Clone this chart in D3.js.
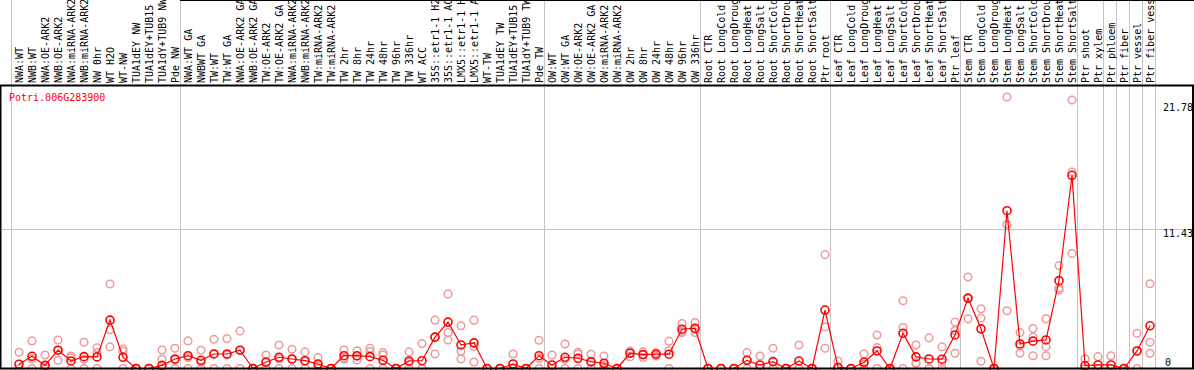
<!DOCTYPE html>
<html>
<head>
<meta charset="utf-8">
<script src="https://cdn.jsdelivr.net/npm/d3@7"></script>
<style>
  html, body { margin: 0; padding: 0; background: #fff; }
  svg { display: block; font-family: 'DejaVu Sans Mono', monospace; font-size: 10px; }
</style>
</head>
<body>
<svg id="chart" width="1194" height="370"></svg>
<script>
const geneId = 'Potri.006G283900';

const samples = [
  'NWA:WT', 'NWB:WT', 'NWA:OE-ARK2', 'NWB:OE-ARK2', 'NWA:miRNA-ARK2', 'NWB:miRNA-ARK2',
  'NW 0hr', 'WT H2O', 'WT-NW', 'TUA1dEY NW', 'TUA1dEY+TUB15 NW', 'TUA1dY+TUB9 NW', 'Pde NW',
  'NWA:WT GA', 'NWBWT GA', 'TW:WT', 'TW:WT GA', 'NWA:OE-ARK2 GA', 'NWB:OE-ARK2 GA',
  'TW:OE-ARK2', 'TW:OE-ARK2 GA', 'NWA:miRNA-ARK2 GA', 'NWB:miRNA-ARK2 GA', 'TW:miRNA-ARK2',
  'TW:miRNA-ARK2 GA', 'TW 2hr', 'TW 8hr', 'TW 24hr', 'TW 48hr', 'TW 96hr', 'TW 336hr',
  'WT ACC', '35S::etr1-1 H2O', '35S::etr1-1 ACC', 'LMX5::etr1-1 H2O', 'LMX5::etr1-1 ACC',
  'WT-TW', 'TUA1dEY TW', 'TUA1dEY+TUB15 TW', 'TUA1dY+TUB9 TW', 'Pde TW',
  'OW:WT', 'OW:WT GA', 'OW:OE-ARK2', 'OW:OE-ARK2 GA', 'OW:miRNA-ARK2', 'OW:miRNA-ARK2 GA',
  'OW 2hr', 'OW 8hr', 'OW 24hr', 'OW 48hr', 'OW 96hr', 'OW 336hr',
  'Root CTR', 'Root LongCold', 'Root LongDrought', 'Root LongHeat', 'Root LongSalt',
  'Root ShortCold', 'Root ShortDrought', 'Root ShortHeat', 'Root ShortSalt', 'Ptr root',
  'Leaf CTR', 'Leaf LongCold', 'Leaf LongDrought', 'Leaf LongHeat', 'Leaf LongSalt',
  'Leaf ShortCold', 'Leaf ShortDrought', 'Leaf ShortHeat', 'Leaf ShortSalt', 'Ptr leaf',
  'Stem CTR', 'Stem LongCold', 'Stem LongDrought', 'Stem LongHeat', 'Stem LongSalt',
  'Stem ShortCold', 'Stem ShortDrought', 'Stem ShortHeat', 'Stem ShortSalt', 'Ptr shoot',
  'Ptr xylem', 'Ptr phloem', 'Ptr fiber', 'Ptr vessel', 'Ptr fiber vessel'
];

// mean expression per sample
const means = [
  0.35, 1.0, 0.26, 1.5, 0.62, 0.97, 0.95, 3.96, 0.92, 0, 0, 0.26, 0.78,
  1.05, 0.67, 1.19, 1.19, 1.5, 0, 0.53, 0.92, 0.78, 0.64, 0.37, 0, 1.05, 1.05, 0.97, 0.67, 0,
  0.62, 0.64, 2.57, 3.8, 1.93, 2.1, 0, 0, 0.37, 0, 1.05,
  0.29, 0.92, 0.84, 0.56, 0.43, 0, 1.25, 1.14, 1.17, 1.17, 3.22, 3.3,
  0, 0, 0, 0.67, 0.29, 0.56, 0, 0.62, 0, 4.79,
  0.1, 0, 0.51, 1.44, 0, 2.89, 0.95, 0.78, 0.76, 2.75,
  5.77, 3.25, 0, 12.93, 2.01, 2.24, 2.34, 7.2, 15.83, 0.23,
  0.29, 0.29, 0, 1.44, 3.5
];

// individual replicates per sample
const replicates = [
  [1.33, 0, 0], [2.26, 0.8, 0], [1.1, 0, 0], [2.34, 1.5, 0.67], [1.03, 0.85, 0], [2.15, 0.76, 0],
  [1.69, 1.3, 0], [6.92, 3.17, 1.77], [1.6, 1.41, 0], [0, 0, 0], [0, 0, 0], [1.52, 0.76, 0], [1.66, 0.7, 0],
  [2.26, 0.9, 0], [1.5, 0.5, 0], [2.4, 1.2, 0], [2.45, 1.1, 0], [3.06, 1.5, 0], [0, 0, 0],
  [1.1, 0.5, 0], [1.93, 0.8, 0], [1.58, 0.76, 0], [1.36, 0.6, 0], [0.89, 0.2, 0],
  [0, 0, 0], [1.52, 0.87, 0.76], [1.45, 1.0, 0.7], [1.66, 1.38, 0], [1.3, 1.1, 0], [0, 0, 0], [1.36, 0.5, 0],
  [2.04, 0, 0], [3.96, 2.57, 1.19], [6.1, 2.94, 2.34], [3.5, 1.41, 0.78], [3.96, 1.79, 0.53],
  [0, 0, 0], [0, 0, 0], [1.19, 0, 0], [0, 0, 0], [2.32, 0.83, 0],
  [1.1, 0, 0], [2.01, 0.75, 0], [1.33, 1.19, 0], [1.17, 0.5, 0], [1.03, 0.26, 0], [0, 0, 0],
  [1.44, 1.3, 0.97], [1.36, 1.14, 0.9], [1.3, 1.17, 1.03], [2.24, 1.45, 0], [3.69, 3.04, 2.94], [3.77, 3.2, 2.94],
  [0, 0, 0], [0, 0, 0], [0, 0, 0], [1.3, 0.7, 0], [1.03, 0, 0],
  [1.66, 0, 0], [0, 0, 0], [1.93, 0, 0], [0, 0, 0], [9.33, 3.41, 1.66],
  [0.62, 0, 0], [0, 0, 0], [1.19, 0.35, 0], [2.75, 1.71, 0], [0, 0, 0],
  [5.55, 3.36, 0], [1.93, 0.48, 0.42], [2.51, 0, 0], [1.77, 0.5, 0], [3.8, 3.11, 1.25],
  [7.5, 5.73, 4.07], [4.89, 4.13, 0.59], [0, 0, 0], [22.24, 11.8, 4.73], [2.94, 1.84, 1.25],
  [3.27, 2.57, 1.05], [4.07, 1.79, 1.05], [8.43, 6.6, 6.43], [22.0, 16.1, 9.42], [0.8, 0, 0],
  [0.97, 0, 0], [1.05, 0, 0], [0, 0, 0], [2.89, 1.43, 0], [6.95, 2.15, 1.25]
];

// first sample index of each group (last entry closes the final group)
const groupStarts = [0, 13, 41, 53, 63, 73, 82, 84, 85, 86, 87, 88];
const tickValues = [21.78, 11.43, 0];
const gridValues = [11.43];

const width = 1194;
const height = 370;
const plotTop = 85.5;
const plotBottom = 368.5;

const svg = d3.select('#chart');

// column edges; point sits 8px right of its column edge
const col = d3.scaleLinear().domain([0, samples.length]).range([11, 1155]);
const cx = i => col(i) + 8;

const y = d3.scaleLinear().domain([0, 11.43]).range([plotBottom, 229]);

// group separators, full height
svg.append('g')
  .attr('stroke', '#c4c4c4')
  .attr('stroke-width', 1)
  .selectAll('line')
  .data(groupStarts)
  .join('line')
  .attr('x1', d => Math.round(col(d)) + 0.5)
  .attr('x2', d => Math.round(col(d)) + 0.5)
  .attr('y1', 0)
  .attr('y2', plotBottom);

// horizontal grid
svg.append('g')
  .attr('stroke', '#c4c4c4')
  .selectAll('line')
  .data(gridValues)
  .join('line')
  .attr('x1', 0)
  .attr('x2', width)
  .attr('y1', d => Math.round(y(d)) + 0.5)
  .attr('y2', d => Math.round(y(d)) + 0.5);

// sample labels, rotated, clipped by the top of the picture
svg.append('g')
  .selectAll('text')
  .data(samples)
  .join('text')
  .attr('transform', (d, i) => `translate(${cx(i) + 3.5},83) rotate(-90)`)
  .attr('fill', '#000')
  .text(d => d);

// frame
svg.append('line')
  .attr('x1', 180).attr('x2', width).attr('y1', 0.5).attr('y2', 0.5)
  .attr('stroke', '#000');
svg.append('line')
  .attr('x1', 0).attr('x2', width).attr('y1', plotTop).attr('y2', plotTop)
  .attr('stroke', '#000').attr('stroke-width', 2);
svg.append('line')
  .attr('x1', 0.5).attr('x2', 0.5).attr('y1', plotTop).attr('y2', plotBottom)
  .attr('stroke', '#000').attr('stroke-width', 2);
svg.append('line')
  .attr('x1', width - 1).attr('x2', width - 1).attr('y1', plotTop).attr('y2', plotBottom)
  .attr('stroke', '#000').attr('stroke-width', 2);

// y axis on the right
const yAxis = svg.append('g')
  .attr('transform', 'translate(1163,0)')
  .call(d3.axisRight(y).tickValues(tickValues).tickSize(0).tickPadding(0).tickFormat(d => String(d)));
yAxis.select('.domain').remove();
yAxis.selectAll('text')
  .attr('x', d => d === 0 ? 2 : 0)
  .attr('dy', d => d === 0 ? '-0.3em' : '0.78em')
  .attr('font-family', 'DejaVu Sans Mono, monospace')
  .attr('font-size', 10)
  .attr('fill', '#000');

// replicates
const reps = replicates.flatMap((r, i) => r.map(v => ({ i, v })));
svg.append('g')
  .attr('fill', 'none')
  .attr('stroke', '#ee9a9a')
  .attr('stroke-width', 1.5)
  .selectAll('circle')
  .data(reps)
  .join('circle')
  .attr('cx', d => cx(d.i))
  .attr('cy', d => y(d.v))
  .attr('r', 3.8);

// mean line
const line = d3.line()
  .x((d, i) => cx(i))
  .y(d => y(d));

svg.append('path')
  .datum(means)
  .attr('fill', 'none')
  .attr('stroke', '#ff0000')
  .attr('stroke-width', 1.2)
  .attr('d', line);

svg.append('g')
  .attr('fill', 'none')
  .attr('stroke', '#ff0000')
  .attr('stroke-width', 1.6)
  .selectAll('circle')
  .data(means)
  .join('circle')
  .attr('cx', (d, i) => cx(i))
  .attr('cy', d => y(d))
  .attr('r', 4);

// bottom axis line drawn over the zero points
svg.append('line')
  .attr('x1', 0).attr('x2', width).attr('y1', plotBottom).attr('y2', plotBottom)
  .attr('stroke', '#000').attr('stroke-width', 2);

svg.append('text')
  .attr('x', 9)
  .attr('y', 101)
  .attr('fill', '#ff0000')
  .text(geneId);
</script>
</body>
</html>
